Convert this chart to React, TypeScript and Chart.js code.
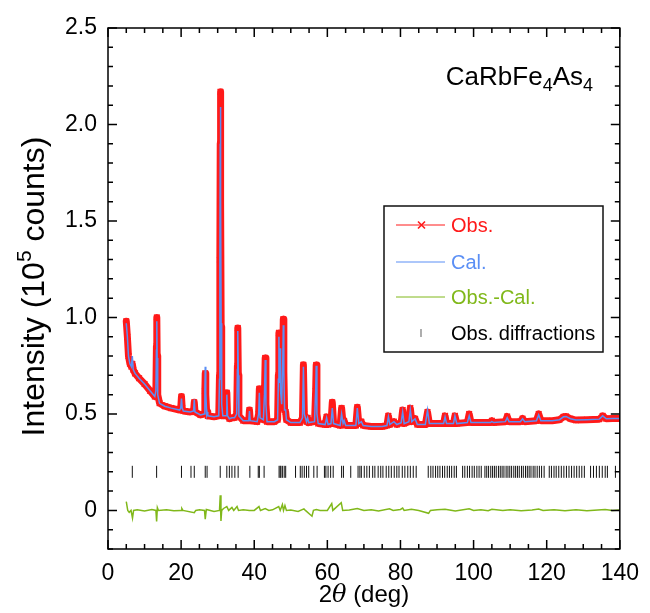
import { useEffect, useRef } from 'react';
import { Chart, registerables } from 'chart.js';

Chart.register(...registerables);

const FONT = "'Liberation Sans', Arial, Helvetica, sans-serif";

const xTicks = [0, 20, 40, 60, 80, 100, 120, 140];
const yTicks = [0, 0.5, 1.0, 1.5, 2.0, 2.5];

// [2theta, observed, calculated] in units of 10^5 counts
const profile: [number, number, number][] = [
  [5.0, 0.98, 0.97], [5.3, 0.9, 0.9], [5.6, 0.8, 0.8], [6.0, 0.76, 0.76], [6.4, 0.745, 0.745],
  [6.65, 0.76, 0.8], [6.9, 0.73, 0.73], [7.4, 0.71, 0.71], [8.5, 0.685, 0.685], [10.0, 0.655, 0.655],
  [11.5, 0.62, 0.62], [12.8, 0.59, 0.59], [13.1, 0.62, 0.62], [13.25, 0.85, 0.83], [13.35, 1.0, 0.98],
  [13.45, 0.8, 0.79], [13.6, 0.6, 0.6], [14.1, 0.555, 0.555], [15.5, 0.54, 0.54], [17.3, 0.53, 0.53],
  [19.6, 0.52, 0.52], [19.9, 0.53, 0.53], [20.1, 0.59, 0.58], [20.3, 0.53, 0.53], [20.6, 0.515, 0.515],
  [22.5, 0.51, 0.51], [23.4, 0.515, 0.515], [23.6, 0.56, 0.575], [23.8, 0.51, 0.51], [25.3, 0.495, 0.495],
  [26.3, 0.5, 0.5], [26.5, 0.62, 0.63], [26.6, 0.71, 0.745], [26.75, 0.6, 0.61], [27.0, 0.5, 0.5],
  [27.1, 0.51, 0.51], [27.3, 0.49, 0.49], [29.0, 0.485, 0.485], [30.3, 0.49, 0.49], [30.5, 0.7, 0.68],
  [30.6, 1.3, 1.28], [30.7, 1.9, 1.9], [30.75, 2.17, 2.09], [30.85, 1.6, 1.62], [30.95, 0.95, 0.97],
  [31.1, 0.55, 0.55], [31.4, 0.49, 0.49], [32.3, 0.49, 0.49], [32.5, 0.61, 0.6], [32.7, 0.49, 0.49],
  [33.2, 0.475, 0.475], [33.9, 0.48, 0.48], [34.6, 0.48, 0.48], [35.2, 0.5, 0.5], [35.4, 0.75, 0.73],
  [35.5, 0.945, 0.93], [35.65, 0.7, 0.7], [35.8, 0.49, 0.49], [37.0, 0.465, 0.465], [38.5, 0.465, 0.465],
  [38.7, 0.52, 0.515], [38.9, 0.465, 0.465], [40.8, 0.46, 0.46], [41.2, 0.5, 0.5], [41.4, 0.63, 0.61],
  [41.6, 0.48, 0.48], [42.5, 0.47, 0.47], [42.8, 0.6, 0.6], [43.0, 0.79, 0.78], [43.2, 0.55, 0.55],
  [43.5, 0.46, 0.46], [45.5, 0.46, 0.46], [46.4, 0.47, 0.47], [46.6, 0.7, 0.68], [46.75, 0.92, 0.9],
  [46.9, 0.66, 0.66], [47.05, 0.85, 0.84], [47.2, 0.62, 0.62], [47.5, 0.55, 0.55], [47.8, 0.8, 0.77],
  [47.95, 0.99, 0.96], [48.1, 0.72, 0.72], [48.3, 0.52, 0.52], [48.6, 0.51, 0.52], [48.8, 0.47, 0.47],
  [50.0, 0.455, 0.455], [52.5, 0.455, 0.455], [53.2, 0.48, 0.48], [53.45, 0.755, 0.745], [53.7, 0.5, 0.5],
  [54.3, 0.46, 0.46], [54.6, 0.48, 0.48], [54.9, 0.455, 0.455], [56.5, 0.46, 0.46], [56.8, 0.62, 0.62],
  [56.95, 0.753, 0.75], [57.15, 0.5, 0.5], [57.5, 0.45, 0.45], [59.4, 0.445, 0.445], [59.8, 0.485, 0.48],
  [60.2, 0.445, 0.445], [61.0, 0.45, 0.45], [61.35, 0.56, 0.53], [61.7, 0.45, 0.45], [63.5, 0.44, 0.44],
  [63.9, 0.53, 0.5], [64.3, 0.45, 0.45], [64.6, 0.465, 0.465], [65.0, 0.44, 0.44], [67.8, 0.44, 0.44],
  [68.2, 0.535, 0.53], [68.6, 0.45, 0.45], [69.3, 0.46, 0.46], [69.8, 0.44, 0.44], [72.0, 0.435, 0.435],
  [75.0, 0.435, 0.435], [76.3, 0.44, 0.44], [76.7, 0.49, 0.485], [77.1, 0.445, 0.445], [78.2, 0.46, 0.46],
  [79.0, 0.445, 0.445], [80.2, 0.455, 0.455], [80.6, 0.52, 0.51], [81.0, 0.45, 0.45], [82.3, 0.46, 0.46],
  [82.7, 0.53, 0.52], [83.1, 0.46, 0.46], [84.0, 0.475, 0.475], [84.6, 0.445, 0.445], [86.8, 0.445, 0.445],
  [87.4, 0.51, 0.52], [87.9, 0.45, 0.45], [89.5, 0.45, 0.45], [91.8, 0.45, 0.45], [92.2, 0.49, 0.485],
  [92.6, 0.45, 0.45], [94.5, 0.45, 0.45], [94.9, 0.49, 0.49], [95.4, 0.45, 0.45], [98.3, 0.455, 0.455],
  [98.8, 0.5, 0.49], [99.3, 0.455, 0.455], [102.0, 0.455, 0.455], [104.6, 0.455, 0.455], [105.0, 0.465, 0.46],
  [105.5, 0.455, 0.455], [108.7, 0.46, 0.46], [109.2, 0.487, 0.48], [109.7, 0.46, 0.46], [112.8, 0.46, 0.46],
  [113.4, 0.476, 0.475], [114.0, 0.46, 0.46], [117.2, 0.465, 0.465], [117.8, 0.5, 0.495], [118.4, 0.465, 0.465],
  [121.5, 0.465, 0.465], [123.5, 0.47, 0.47], [124.6, 0.485, 0.485], [125.3, 0.487, 0.487], [126.5, 0.475, 0.475],
  [128.0, 0.468, 0.468], [131.0, 0.47, 0.47], [134.4, 0.473, 0.473], [135.3, 0.49, 0.49], [136.3, 0.475, 0.475],
  [138.0, 0.476, 0.476], [140.0, 0.476, 0.476],
];

// [2theta, obs - cal]
const difference: [number, number][] = [
  [5.0, 0.045], [5.4, 0.0], [5.8, -0.01], [6.3, 0.0], [6.7, -0.04], [7.0, 0.0], [8.0, 0.003], [10.0, -0.003],
  [12.0, 0.004], [13.1, 0.0], [13.3, -0.057], [13.5, 0.015], [13.8, 0.0], [16.0, 0.004], [18.0, -0.002],
  [20.0, 0.0], [20.2, 0.01], [20.5, 0.0], [23.6, -0.012], [24.0, 0.0], [25.0, 0.003], [26.4, 0.0],
  [26.6, -0.045], [26.9, 0.005], [28.0, 0.0], [29.0, -0.005], [30.5, 0.0], [30.7, 0.078], [30.9, -0.055],
  [31.1, 0.0], [31.6, 0.01], [32.5, 0.02], [33.0, 0.0], [33.9, 0.015], [34.4, 0.0], [35.3, 0.02], [35.7, 0.0],
  [37.0, 0.003], [38.7, 0.0], [40.0, 0.0], [41.3, 0.02], [41.7, 0.0], [43.0, 0.01], [44.0, 0.0], [45.0, 0.003],
  [46.7, 0.02], [47.1, 0.0], [47.7, 0.03], [48.0, 0.0], [48.4, 0.025], [48.8, 0.0], [50.0, 0.002],
  [52.0, -0.005], [53.6, 0.008], [54.0, 0.0], [55.8, -0.03], [56.2, 0.0], [57.0, 0.005], [58.0, 0.0],
  [60.0, 0.0], [61.2, 0.035], [61.5, 0.0], [63.8, 0.04], [64.2, 0.0], [66.0, 0.002], [68.2, 0.01],
  [70.0, 0.0], [72.0, 0.003], [74.0, -0.003], [77.0, 0.008], [78.0, 0.0], [80.0, 0.005], [80.6, 0.012],
  [81.0, 0.0], [83.0, 0.006], [85.0, 0.0], [87.7, -0.015], [88.2, 0.0], [90.0, 0.004], [92.2, 0.006],
  [95.0, -0.003], [98.8, 0.008], [100.0, 0.0], [102.0, 0.003], [104.0, -0.002], [105.0, 0.006], [108.0, 0.0],
  [110.0, 0.004], [113.0, -0.002], [116.0, 0.002], [117.8, 0.007], [119.0, 0.0], [122.0, 0.003],
  [125.0, -0.002], [128.0, 0.003], [131.0, -0.002], [134.0, 0.002], [136.0, 0.005], [138.0, 0.0], [140.0, 0.002],
];

// Bragg reflection positions (2theta)
const braggPositions = [
  6.65, 13.3, 20.1, 22.7, 23.6, 26.6, 27.1, 30.7, 32.5, 33.2, 33.9, 34.7, 35.6, 38.8, 41.1, 41.4, 42.7,
  46.8, 47.1, 47.3, 47.7, 48.2, 48.6, 51.3, 52.6, 53.1, 53.7, 54.3, 54.9, 56.3, 57.2, 59.2, 59.6, 60.2,
  60.9, 61.6, 63.9, 64.4, 66.4, 68.4, 68.9, 69.3, 70.1, 70.8, 71.5, 72.4, 73.0, 73.9, 74.6, 75.2, 76.1,
  76.8, 77.5, 78.3, 79.0, 79.6, 80.5, 81.2, 82.0, 82.7, 83.5, 84.3, 87.6, 88.3, 88.9, 89.6, 90.2, 90.8,
  91.5, 92.1, 92.8, 93.4, 94.0, 94.7, 95.3, 97.0, 97.6, 98.3, 98.9, 99.6, 100.2, 100.9, 101.5, 102.1,
  103.1, 103.6, 104.1, 104.7, 105.2, 105.7, 106.2, 106.8, 107.3, 107.8, 108.3, 108.9, 109.4, 109.9,
  110.4, 111.0, 111.5, 112.0, 112.5, 113.1, 113.6, 114.2, 114.7, 115.2, 115.7, 116.3, 116.8, 117.4,
  118.0, 118.6, 119.3, 120.7, 121.3, 122.0, 122.6, 123.3, 124.0, 124.7, 125.4, 126.1, 126.8, 127.5,
  128.2, 128.9, 129.6, 130.3, 132.0, 132.8, 133.6, 134.4, 135.2, 136.0, 136.6, 138.8,
];
const braggLevel = 0.2;

const RED = '#ff1a1a';
const BLUE = '#5b8ff5';
const GREEN = '#80b81a';

const decor = {
  id: 'decor',
  afterDraw(chart: any) {
    const { ctx, chartArea } = chart;
    const { left, right, top, bottom } = chartArea;
    const xs = chart.scales.x;
    const ys = chart.scales.y;
    ctx.save();
    ctx.strokeStyle = '#000';
    ctx.lineWidth = 1.5;
    ctx.strokeRect(left, top, right - left, bottom - top);
    ctx.beginPath();
    for (let k = 0; k <= 28; k++) {
      const v = k * 5;
      const px = xs.getPixelForValue(v);
      const len = v % 20 === 0 ? 9 : 5;
      ctx.moveTo(px, bottom); ctx.lineTo(px, bottom - len);
      ctx.moveTo(px, top); ctx.lineTo(px, top + len);
    }
    for (let k = -2; k <= 25; k++) {
      const py = ys.getPixelForValue(k / 10);
      const len = k % 5 === 0 ? 9 : 5;
      ctx.moveTo(left, py); ctx.lineTo(left + len, py);
      ctx.moveTo(right, py); ctx.lineTo(right - len, py);
    }
    ctx.stroke();

    // compound title
    ctx.fillStyle = '#000';
    ctx.textBaseline = 'alphabetic';
    ctx.textAlign = 'left';
    const big = `26px ${FONT}`;
    const small = `18px ${FONT}`;
    const parts: [string, boolean][] = [['CaRbFe', false], ['4', true], ['As', false], ['4', true]];
    let w = 0;
    parts.forEach(([t, s]) => { ctx.font = s ? small : big; w += ctx.measureText(t).width; });
    let tx = 593 - w;
    const ty = 85;
    parts.forEach(([t, s]) => {
      ctx.font = s ? small : big;
      ctx.fillText(t, tx, s ? ty + 6 : ty);
      tx += ctx.measureText(t).width;
    });

    // legend box
    ctx.fillStyle = '#fff';
    ctx.fillRect(384, 206, 219, 146);
    ctx.lineWidth = 1.5;
    ctx.strokeStyle = '#111';
    ctx.strokeRect(384, 206, 219, 146);
    const rows: [string, string, number][] = [
      ['Obs.', RED, 225], ['Cal.', BLUE, 262], ['Obs.-Cal.', GREEN, 297], ['Obs. diffractions', '#000', 333],
    ];
    ctx.font = `20px ${FONT}`;
    ctx.textBaseline = 'middle';
    rows.forEach(([t, c, yy], i) => {
      ctx.strokeStyle = c;
      ctx.lineWidth = 1;
      if (i < 3) {
        ctx.beginPath(); ctx.moveTo(396, yy); ctx.lineTo(445, yy); ctx.stroke();
      }
      if (i === 0) {
        ctx.lineWidth = 1.6;
        ctx.beginPath();
        ctx.moveTo(418, yy - 3.5); ctx.lineTo(425, yy + 3.5);
        ctx.moveTo(425, yy - 3.5); ctx.lineTo(418, yy + 3.5);
        ctx.stroke();
      }
      if (i === 3) {
        ctx.strokeStyle = '#777';
        ctx.lineWidth = 1.2;
        ctx.beginPath(); ctx.moveTo(421, yy - 4); ctx.lineTo(421, yy + 4); ctx.stroke();
      }
      ctx.fillStyle = c;
      ctx.fillText(t, 451, yy + 1);
    });

    // x axis title: 2θ (deg)
    ctx.fillStyle = '#000';
    ctx.textBaseline = 'alphabetic';
    const xt: [string, string][] = [['2', `24px ${FONT}`], ['\u03b8', `italic 24px 'DejaVu Serif', serif`], [' (deg)', `24px ${FONT}`]];
    let xw = 0;
    xt.forEach(([t, f]) => { ctx.font = f; xw += ctx.measureText(t).width; });
    let xx = (left + right) / 2 - xw / 2;
    xt.forEach(([t, f]) => { ctx.font = f; ctx.fillText(t, xx, 602); xx += ctx.measureText(t).width; });

    // y axis title
    ctx.save();
    ctx.translate(44, (top + bottom) / 2 - 2);
    ctx.rotate(-Math.PI / 2);
    const yt: [string, string, number][] = [
      ['Intensity (10', `32px ${FONT}`, 0], ['5', `21px ${FONT}`, -13], [' counts)', `32px ${FONT}`, 0],
    ];
    let yw = 0;
    yt.forEach(([t, f]) => { ctx.font = f; yw += ctx.measureText(t).width; });
    let yx = -yw / 2;
    yt.forEach(([t, f, dy]) => { ctx.font = f; ctx.fillText(t, yx, dy); yx += ctx.measureText(t).width; });
    ctx.restore();

    ctx.restore();
  },
};

export default function App() {
  const ref = useRef<HTMLCanvasElement>(null);
  useEffect(() => {
    const chart = new Chart(ref.current as HTMLCanvasElement, {
      type: 'scatter',
      data: {
        datasets: [
          {
            label: 'Cal.',
            data: profile.map((r) => ({ x: r[0], y: r[2] })),
            showLine: true,
            borderColor: BLUE,
            borderWidth: 1.5,
            pointRadius: 0,
            order: 0,
          },
          {
            label: 'Obs.',
            data: profile.map((r) => ({ x: r[0], y: r[1] })),
            showLine: true,
            borderColor: RED,
            borderWidth: 7,
            borderJoinStyle: 'round',
            borderCapStyle: 'round',
            pointStyle: 'crossRot',
            pointRadius: 4,
            pointBorderColor: RED,
            pointBorderWidth: 1.3,
            order: 1,
          },
          {
            label: 'Obs.-Cal.',
            data: difference.map((r) => ({ x: r[0], y: r[1] })),
            showLine: true,
            borderColor: GREEN,
            borderWidth: 1.5,
            pointRadius: 0,
            order: 2,
          },
          {
            label: 'Obs. diffractions',
            data: braggPositions.map((p) => ({ x: p, y: braggLevel })),
            showLine: false,
            pointStyle: 'line',
            rotation: 90,
            pointRadius: 6,
            pointBorderColor: '#111',
            pointBorderWidth: 1,
            order: 3,
          },
        ],
      } as any,
      options: {
        responsive: false,
        animation: false,
        devicePixelRatio: 1,
        events: [],
        layout: { padding: { top: 28, right: 23, left: 0, bottom: 0 } },
        plugins: { legend: { display: false }, tooltip: { enabled: false } },
        scales: {
          x: {
            type: 'linear',
            min: 0,
            max: 140,
            afterBuildTicks: (s: any) => { s.ticks = xTicks.map((v) => ({ value: v })); },
            afterFit: (s: any) => { s.height = 64; },
            ticks: { color: '#000', font: { family: FONT, size: 23 }, padding: 11, maxRotation: 0, autoSkip: false },
            grid: { display: false, drawTicks: false },
            border: { display: false },
          },
          y: {
            type: 'linear',
            min: -0.2,
            max: 2.5,
            afterBuildTicks: (s: any) => { s.ticks = yTicks.map((v) => ({ value: v })); },
            afterFit: (s: any) => { s.width = 108; },
            ticks: {
              color: '#000',
              font: { family: FONT, size: 23 },
              padding: 11,
              autoSkip: false,
              callback: (v: any) => (Number(v) === 0 ? '0' : Number(v).toFixed(1)),
            },
            grid: { display: false, drawTicks: false },
            border: { display: false },
          },
        },
      } as any,
      plugins: [decor],
    });
    return () => chart.destroy();
  }, []);
  return (
    <div style={{ position: 'absolute', left: 0, top: 0, width: 650, height: 613, background: '#fff' }}>
      <canvas ref={ref} width={650} height={613} style={{ display: 'block' }} />
    </div>
  );
}
